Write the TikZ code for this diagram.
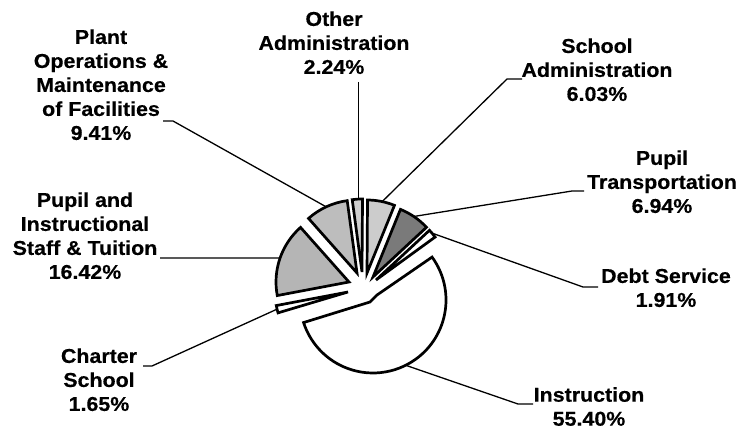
\documentclass[tikz,border=0pt]{standalone}
\usepackage{fontspec}
\setmainfont{Liberation Sans}[FakeStretch=1.07, BoldFeatures={FakeBold=0.4}]
\usetikzlibrary{calc}
\definecolor{gplant}{HTML}{BDBDBD}
\definecolor{gpupil}{HTML}{B5B5B5}
\definecolor{gother}{HTML}{CFCFCF}
\definecolor{gschool}{HTML}{CCCCCC}
\definecolor{gtrans}{HTML}{7A7A7A}
\tikzset{
  slice/.style={draw=black, line width=2.7pt, line join=miter},
  leader/.style={draw=black, line width=1.3pt},
  lbl/.style={align=center, anchor=north, inner sep=0pt,
    font=\fontsize{20}{24}\selectfont\bfseries,
    execute at begin node=\strut, execute at end node=\strut}
}
\begin{document}
\begin{tikzpicture}[x=1pt,y=1pt]
\useasboundingbox (0,0) rectangle (738,431);
\fill[white] (0,0) rectangle (738,431);
% apexes
\coordinate (aDebt) at (376,151);
\coordinate (aTrans) at (373,154);
\coordinate (aSchool) at (367,158);
\coordinate (aOther) at (362,159);
\coordinate (aPlant) at (357,158);
\coordinate (aPupil) at (349,149);
\coordinate (aCharter) at (348,139);
\coordinate (cInstr) at (373,131);
\coordinate (nA) at (377,136);
\coordinate (nB) at (370,129);
% slices
\draw[slice, fill=white] (nA) -- ($(cInstr)+(36:73)$) arc[start angle=36, end angle=-162, radius=73] -- (nB) -- cycle;
\draw[slice, fill=white] (aDebt) -- ++(36:73) arc[start angle=36, end angle=42.9, radius=73] -- cycle;
\draw[slice, fill=gtrans] (aTrans) -- ++(42.9:73) arc[start angle=42.9, end angle=67.9, radius=73] -- cycle;
\draw[slice, fill=gschool] (aSchool) -- ++(67.9:73) arc[start angle=67.9, end angle=89.6, radius=73] -- cycle;
\draw[slice, fill=gother] (aOther) -- ++(89.6:73) arc[start angle=89.6, end angle=97.7, radius=73] -- cycle;
\draw[slice, fill=gplant] (aPlant) -- ++(97.7:73) arc[start angle=97.7, end angle=131.6, radius=73] -- cycle;
\draw[slice, fill=gpupil] (aPupil) -- ++(131.6:73) arc[start angle=131.6, end angle=190.7, radius=73] -- cycle;
\draw[slice, fill=white] (aCharter) -- ++(190.7:73) arc[start angle=190.7, end angle=196.6, radius=73] -- cycle;
% leader end points on slices
\coordinate (pPlant) at ($(aPlant)+(115:73)$);
\coordinate (pOther) at ($(aOther)+(93:73)$);
\coordinate (pSchool) at ($(aSchool)+(78:73)$);
\coordinate (pTrans) at ($(aTrans)+(56:73)$);
\coordinate (pDebt) at ($(aDebt)+(40:73)$);
\coordinate (pInstr) at ($(cInstr)+(-63.4:73)$);
\coordinate (pCharter) at ($(aCharter)+(193.6:73)$);
\coordinate (pPupil) at ($(aPupil)+(160.8:73)$);
% labels
\node[lbl] (lPlant) at (101,401.8) {Plant\\Operations \&\\Maintenance\\of Facilities\\9.41\%};
\node[lbl] (lOther) at (334,419.8) {Other\\Administration\\2.24\%};
\node[lbl] (lSchool) at (597,392.8) {School\\Administration\\6.03\%};
\node[lbl] (lTrans) at (662,280.8) {Pupil\\Transportation\\6.94\%};
\node[lbl] (lDebt) at (666,162.8) {Debt Service\\1.91\%};
\node[lbl] (lPupil) at (85,238.8) {Pupil and\\Instructional\\Staff \& Tuition\\16.42\%};
\node[lbl] (lCharter) at (99,82.8) {Charter\\School\\1.65\%};
\node[lbl, execute at end node={}] (lInstr) at (589,44) {Instruction\\55.40\%};
% leaders
\draw[leader] (163,310) -- (173,310) -- (pPlant);
\draw[leader] (pOther |- 0,349) -- (pOther);
\draw[leader] (522,352) -- (507,352) -- (pSchool);
\draw[leader] (584,240) -- (572,240) -- (pTrans);
\draw[leader] (598,144) -- (583,144) -- (pDebt);
\draw[leader] (533,27) -- (518,27) -- (pInstr);
\draw[leader] (143,65) -- (152,65) -- (pCharter);
\draw[leader] (160,173) -- (pPupil);
\end{tikzpicture}
\end{document}
